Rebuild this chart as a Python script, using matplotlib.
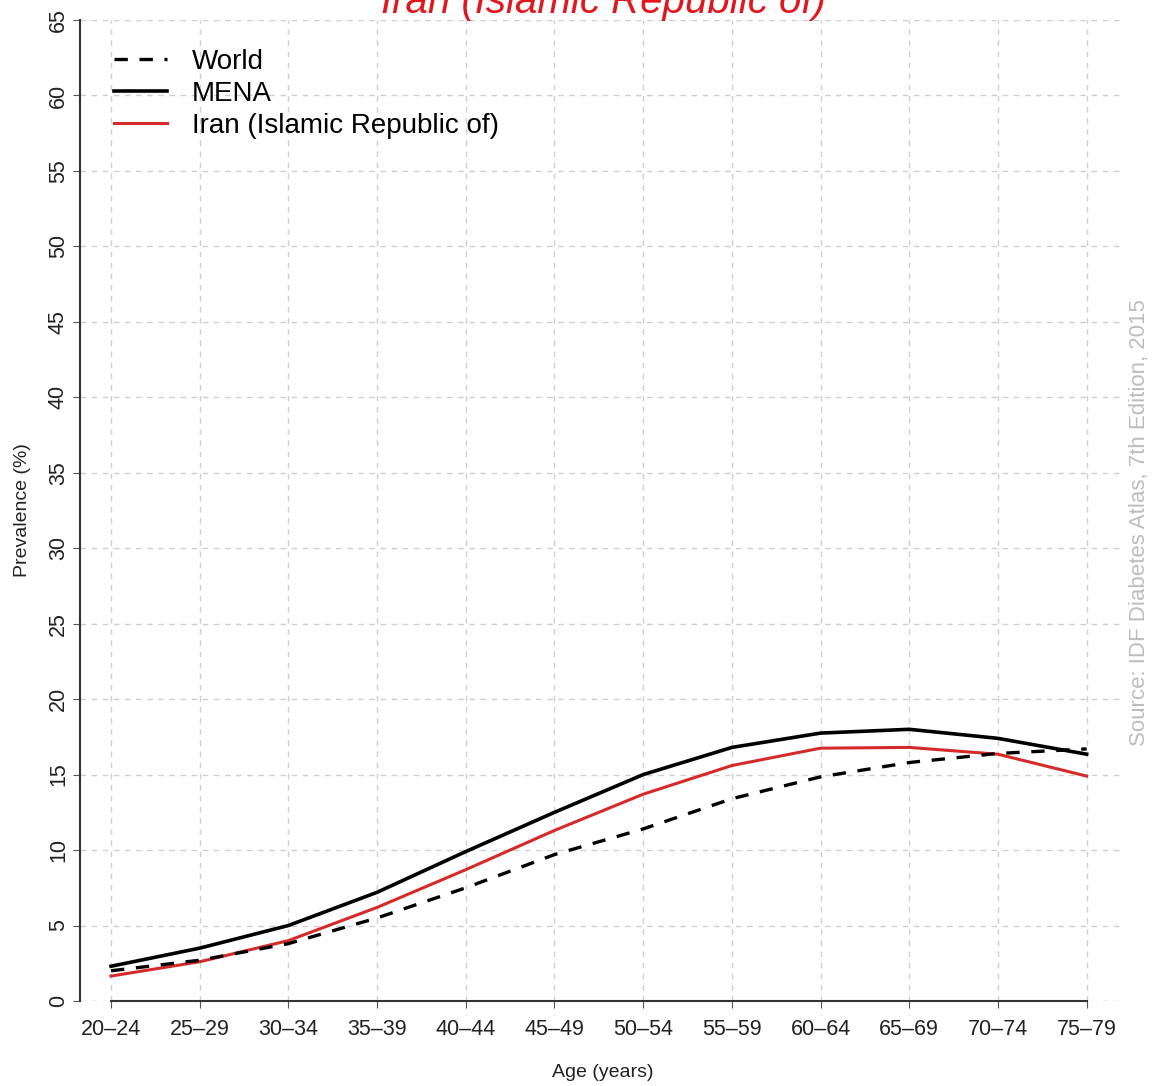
import numpy as np
import matplotlib.pyplot as plt

plt.rcParams['font.family'] = ['Liberation Sans', 'DejaVu Sans']

# ------------------ Data ------------------
ages = ["20–24", "25–29", "30–34", "35–39", "40–44", "45–49",
        "50–54", "55–59", "60–64", "65–69", "70–74", "75–79"]
world = [2.0, 2.7, 3.8, 5.5, 7.5, 9.7, 11.4, 13.4, 14.85, 15.8, 16.4, 16.7]
mena = [2.3, 3.5, 5.0, 7.2, 9.9, 12.5, 15.0, 16.8, 17.75, 18.0, 17.4, 16.35]
iran = [1.65, 2.6, 4.0, 6.2, 8.7, 11.3, 13.7, 15.6, 16.75, 16.8, 16.35, 14.9]

x = np.arange(len(ages))

# ------------------ Plot ------------------
fig = plt.figure(figsize=(11.56, 10.86), dpi=100)
ax = fig.add_axes([0.0692, 0.0783, 0.9038, 0.9033])

ax.set_xlim(-0.35, 11.43)
ax.set_ylim(0, 65)

ax.set_xticks(x)
ax.set_yticks(np.arange(0, 66, 5))
ax.grid(True, color="#cfcfcf", linestyle=(0, (4, 4)), linewidth=1.0)
ax.set_axisbelow(True)

l_iran, = ax.plot(x, iran, color="#d42a2a", lw=2.2, label="Iran (Islamic Republic of)", zorder=3)
l_mena, = ax.plot(x, mena, color="black", lw=2.6, label="MENA", zorder=3)
l_world, = ax.plot(x, world, color="black", lw=2.4, linestyle=(0, (4, 3.5)),
                   label="World", zorder=4)

for s in ["top", "right"]:
    ax.spines[s].set_visible(False)
ax.spines["left"].set_bounds(0, 65)
ax.spines["bottom"].set_bounds(0, 11)
ax.spines["left"].set_color("#333333")
ax.spines["bottom"].set_color("#333333")
ax.spines["left"].set_linewidth(1.5)
ax.spines["bottom"].set_linewidth(1.5)

ax.set_xticklabels(ages, fontsize=15.5, color="#222222")
ax.set_yticklabels([str(v) for v in range(0, 66, 5)], fontsize=15.5,
                   rotation=90, va="center", color="#222222")
ax.tick_params(axis="both", direction="out", length=5, color="#555555")
ax.tick_params(axis="x", pad=8)
ax.tick_params(axis="y", pad=3)

ax.set_xlabel("Age (years)", fontsize=14, labelpad=17, color="#222222")
ax.set_ylabel("Prevalence (%)", fontsize=14, labelpad=12, color="#222222")

leg = ax.legend(handles=[l_world, l_mena, l_iran], loc="upper left",
                bbox_to_anchor=(0.022, 0.982), frameon=False, fontsize=20,
                handlelength=1.9, handletextpad=0.9, labelspacing=0.22,
                borderaxespad=0)

fig.text(0.522, 1 - 13 / 1086, "Iran (Islamic Republic of)", color="#e3161e",
         fontsize=29, style="italic", ha="center", va="baseline")

fig.text(0.986, 0.519, "Source: IDF Diabetes Atlas, 7th Edition, 2015",
         color="#bdbdbd", fontsize=16, rotation=90, ha="center", va="center")

fig.savefig("out.png", dpi=100)
